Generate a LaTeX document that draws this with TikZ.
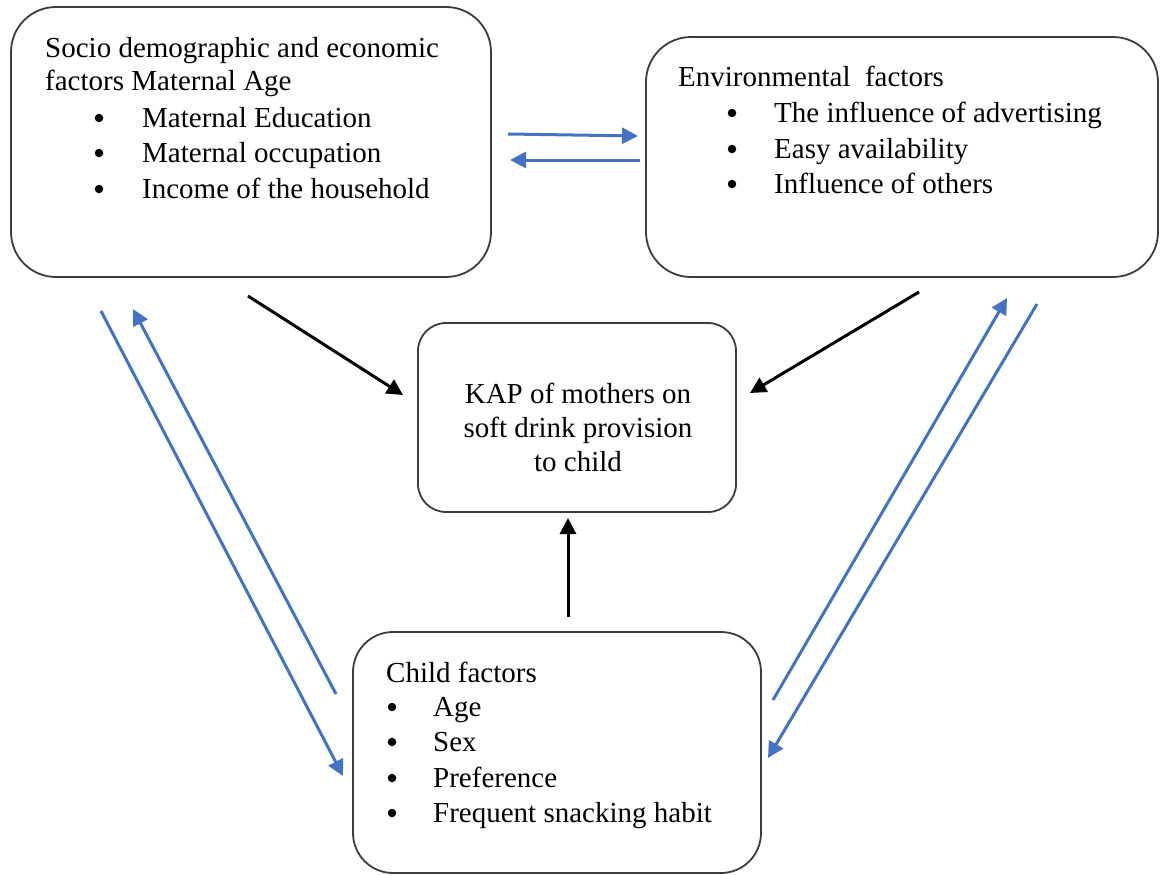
\documentclass[tikz,border=0pt]{standalone}
\usepackage{fontspec}
\setmainfont{Liberation Serif}
\usetikzlibrary{arrows.meta}
\definecolor{arrowblue}{RGB}{68,114,196}
\definecolor{boxgray}{RGB}{60,60,60}
\begin{document}
\begin{tikzpicture}[x=1pt,y=-1pt,
  box/.style={draw=boxgray, line width=1.8pt, rounded corners=#1, inner sep=0pt},
  txt/.style={anchor=base west, inner sep=0pt, font=\fontsize{29}{35}\selectfont},
  ctxt/.style={anchor=base, inner sep=0pt, font=\fontsize{29}{35}\selectfont},
  bul/.style={circle, fill=black, inner sep=0pt, minimum size=8.5pt},
  bluearrow/.style={draw=arrowblue, line width=3pt, -{Triangle[length=16pt,width=16pt]}},
  blackarrow/.style={draw=black, line width=3pt, -{Triangle[length=16pt,width=16pt]}}
]
\useasboundingbox (0,0) rectangle (1160,875);
\fill[white] (0,0) rectangle (1160,875);

% boxes
\node[box=45pt, minimum width=480pt, minimum height=270pt] (A) at (251,142) {};
\node[box=45pt, minimum width=512pt, minimum height=240pt] (B) at (902,157) {};
\node[box=28pt, minimum width=318pt, minimum height=189pt] (C) at (577,417.5) {};
\node[box=40pt, minimum width=408pt, minimum height=241pt] (D) at (557,752.5) {};

% box A text
\node[txt] (a1) at (45,58) {Socio demographic and economic};
\node[txt] (a2) at (45,91) {factors Maternal Age};
\node[bul] (ab1) at (99,118) {};
\node[txt] (a3) at (142,127) {Maternal Education};
\node[bul] (ab2) at (99,153) {};
\node[txt] (a4) at (142,162) {Maternal occupation};
\node[bul] (ab3) at (99,189) {};
\node[txt] (a5) at (142,198) {Income of the household};

% box B text
\node[txt] (b1) at (678,87) {Environmental~~factors};
\node[bul] (bb1) at (732,113) {};
\node[txt] (b2) at (774,122) {The influence of advertising};
\node[bul] (bb2) at (732,149) {};
\node[txt] (b3) at (774,158) {Easy availability};
\node[bul] (bb3) at (732,184) {};
\node[txt] (b4) at (774,193) {Influence of others};

% box C text
\node[ctxt] (c1) at (578,403) {KAP of mothers on};
\node[ctxt] (c2) at (578,437) {soft drink provision};
\node[ctxt] (c3) at (578,471) {to child};

% box D text
\node[txt] (d1) at (386,682) {Child factors};
\node[bul] (db1) at (392,707) {};
\node[txt] (d2) at (433,716) {Age};
\node[bul] (db2) at (392,742) {};
\node[txt] (d3) at (433,751) {Sex};
\node[bul] (db3) at (392,778) {};
\node[txt] (d4) at (433,787) {Preference};
\node[bul] (db4) at (392,813) {};
\node[txt] (d5) at (433,822) {Frequent snacking habit};

% arrow end coordinates
\coordinate (ab_s) at (508,134);
\coordinate (ab_e) at (638,136);
\coordinate (ba_s) at (640,160);
\coordinate (ba_e) at (510,160);
\coordinate (ac_s) at (248,296);
\coordinate (ac_e) at (403,395);
\coordinate (bc_s) at (919,292);
\coordinate (bc_e) at (750,393);
\coordinate (dc_s) at (568,617);
\coordinate (dc_e) at (568,518);
\coordinate (ad_s) at (101,311);
\coordinate (ad_e) at (343,776);
\coordinate (da_s) at (336,694);
\coordinate (da_e) at (133,309);
\coordinate (db_s) at (773,700);
\coordinate (db_e) at (1007,298);
\coordinate (bd_s) at (1037,304);
\coordinate (bd_e) at (768,758);

% connectors
\draw[bluearrow] (ab_s) -- (ab_e);
\draw[bluearrow] (ba_s) -- (ba_e);
\draw[blackarrow] (ac_s) -- (ac_e);
\draw[blackarrow] (bc_s) -- (bc_e);
\draw[blackarrow] (dc_s) -- (dc_e);
\draw[bluearrow] (ad_s) -- (ad_e);
\draw[bluearrow] (da_s) -- (da_e);
\draw[bluearrow] (db_s) -- (db_e);
\draw[bluearrow] (bd_s) -- (bd_e);
\end{tikzpicture}
\end{document}
